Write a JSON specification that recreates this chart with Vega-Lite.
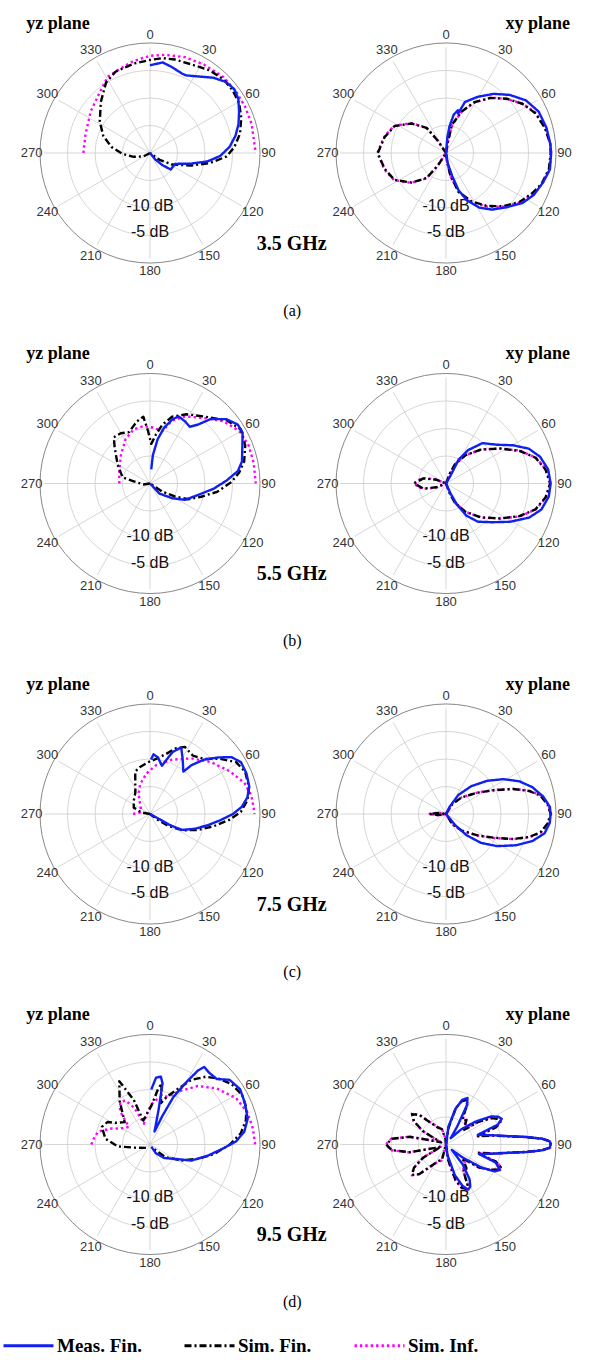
{
"$schema": "https://vega.github.io/schema/vega-lite/v6.json",
"background": "white",
"padding": {"left": 2, "top": 5, "right": 0, "bottom": 0},
"columns": 2,
"spacing": {"row": 34.5, "column": 0},
"bounds": "flush",
"config": {
  "view": {"stroke": null},
  "legend": {"orient": "bottom", "direction": "horizontal", "symbolType": "stroke", "symbolSize": 2500, "symbolStrokeWidth": 3, "labelFont": "Liberation Serif", "labelFontSize": 19, "labelFontWeight": "bold", "labelColor": "#000000", "columnPadding": 36, "labelOffset": 2, "offset": 8, "labelLimit": 200}
},
"datasets": {
  "rng": [{"r":0.25},{"r":0.5},{"r":0.75}],
  "out": [{"r":1}],
  "ang": [{"a":0},{"a":30},{"a":60},{"a":90},{"a":120},{"a":150},{"a":180},{"a":210},{"a":240},{"a":270},{"a":300},{"a":330}],
  "dbl": [{"t":"-10 dB","r":0.5},{"t":"-5 dB","r":0.75}],
  "c35yz": [
    {"s":"Sim. Inf.","a":270,"g":-7.4},{"s":"Sim. Inf.","a":286,"g":-7.3},{"s":"Sim. Inf.","a":305,"g":-6.3},{"s":"Sim. Inf.","a":322,"g":-4.9},{"s":"Sim. Inf.","a":331,"g":-3.5},{"s":"Sim. Inf.","a":340,"g":-3.1},{"s":"Sim. Inf.","a":350,"g":-2.3},{"s":"Sim. Inf.","a":0,"g":-1.6},{"s":"Sim. Inf.","a":9,"g":-1.2},{"s":"Sim. Inf.","a":20,"g":-0.7},{"s":"Sim. Inf.","a":31.5,"g":-0.4},{"s":"Sim. Inf.","a":44,"g":0},{"s":"Sim. Inf.","a":55,"g":0},{"s":"Sim. Inf.","a":64,"g":0},{"s":"Sim. Inf.","a":74,"g":0},{"s":"Sim. Inf.","a":90,"g":0},
    {"s":"Sim. Fin.","a":235,"g":-20},{"s":"Sim. Fin.","a":242,"g":-18.6},{"s":"Sim. Fin.","a":257,"g":-16.8},{"s":"Sim. Fin.","a":268,"g":-14.8},{"s":"Sim. Fin.","a":279,"g":-12.6},{"s":"Sim. Fin.","a":290,"g":-10.6},{"s":"Sim. Fin.","a":302,"g":-8.8},{"s":"Sim. Fin.","a":316,"g":-6.6},{"s":"Sim. Fin.","a":328,"g":-4.3},{"s":"Sim. Fin.","a":337,"g":-3.3},{"s":"Sim. Fin.","a":350,"g":-2.8},{"s":"Sim. Fin.","a":0,"g":-2.4},{"s":"Sim. Fin.","a":7.5,"g":-1.9},{"s":"Sim. Fin.","a":15,"g":-1.7},{"s":"Sim. Fin.","a":25,"g":-1.5},{"s":"Sim. Fin.","a":36,"g":-0.7},{"s":"Sim. Fin.","a":45,"g":-0.3},{"s":"Sim. Fin.","a":53,"g":-0.4},{"s":"Sim. Fin.","a":61,"g":-0.7},{"s":"Sim. Fin.","a":69,"g":-1.5},{"s":"Sim. Fin.","a":78,"g":-2.6},{"s":"Sim. Fin.","a":86,"g":-4.0},{"s":"Sim. Fin.","a":92.6,"g":-5.5},{"s":"Sim. Fin.","a":99.3,"g":-8.4},{"s":"Sim. Fin.","a":106.8,"g":-11.8},{"s":"Sim. Fin.","a":117.6,"g":-15.3},{"s":"Sim. Fin.","a":126,"g":-17.8},{"s":"Sim. Fin.","a":135,"g":-20},
    {"s":"Meas. Fin.","a":0,"g":-3.4},{"s":"Meas. Fin.","a":8,"g":-2.7},{"s":"Meas. Fin.","a":14,"g":-3.2},{"s":"Meas. Fin.","a":22,"g":-3.8},{"s":"Meas. Fin.","a":25,"g":-3.8},{"s":"Meas. Fin.","a":34,"g":-2.6},{"s":"Meas. Fin.","a":40,"g":-1.4},{"s":"Meas. Fin.","a":47,"g":-0.3},{"s":"Meas. Fin.","a":53,"g":0},{"s":"Meas. Fin.","a":58.5,"g":-0.4},{"s":"Meas. Fin.","a":65,"g":-1.4},{"s":"Meas. Fin.","a":72,"g":-2.4},{"s":"Meas. Fin.","a":78.6,"g":-3.5},{"s":"Meas. Fin.","a":85.6,"g":-4.9},{"s":"Meas. Fin.","a":92.4,"g":-6.7},{"s":"Meas. Fin.","a":98.3,"g":-9.0},{"s":"Meas. Fin.","a":104.3,"g":-11.9},{"s":"Meas. Fin.","a":113.3,"g":-14.8},{"s":"Meas. Fin.","a":128.6,"g":-15.0},{"s":"Meas. Fin.","a":134.3,"g":-16.7},{"s":"Meas. Fin.","a":141,"g":-18.4},{"s":"Meas. Fin.","a":150,"g":-20}
  ],
  "c35xy": [
    {"s":"Sim. Inf.","a":0,"g":-20},{"s":"Sim. Inf.","a":10,"g":-17.4},{"s":"Sim. Inf.","a":12.5,"g":-14.5},{"s":"Sim. Inf.","a":21,"g":-11.5},{"s":"Sim. Inf.","a":29.5,"g":-9.0},{"s":"Sim. Inf.","a":39,"g":-6.5},{"s":"Sim. Inf.","a":48.5,"g":-4.6},{"s":"Sim. Inf.","a":57.5,"g":-2.7},{"s":"Sim. Inf.","a":66,"g":-1.4},{"s":"Sim. Inf.","a":76,"g":-0.6},{"s":"Sim. Inf.","a":85,"g":-0.2},{"s":"Sim. Inf.","a":90,"g":-0.1},{"s":"Sim. Inf.","a":99,"g":-0.2},{"s":"Sim. Inf.","a":108,"g":-0.9},{"s":"Sim. Inf.","a":115,"g":-1.9},{"s":"Sim. Inf.","a":124,"g":-3.2},{"s":"Sim. Inf.","a":133,"g":-5.1},{"s":"Sim. Inf.","a":142.5,"g":-7.2},{"s":"Sim. Inf.","a":152.5,"g":-9.6},{"s":"Sim. Inf.","a":162,"g":-12.2},{"s":"Sim. Inf.","a":169,"g":-15.5},{"s":"Sim. Inf.","a":172.5,"g":-18},{"s":"Sim. Inf.","a":180,"g":-20},{"s":"Sim. Inf.","a":213.5,"g":-17.1},{"s":"Sim. Inf.","a":218,"g":-13.9},{"s":"Sim. Inf.","a":229.5,"g":-11.3},{"s":"Sim. Inf.","a":242.5,"g":-8.9},{"s":"Sim. Inf.","a":255.5,"g":-7.9},{"s":"Sim. Inf.","a":270,"g":-7.0},{"s":"Sim. Inf.","a":284.5,"g":-7.9},{"s":"Sim. Inf.","a":297.5,"g":-8.9},{"s":"Sim. Inf.","a":310.5,"g":-11.3},{"s":"Sim. Inf.","a":322,"g":-13.9},{"s":"Sim. Inf.","a":326.5,"g":-17.1},{"s":"Sim. Inf.","a":335,"g":-20},
    {"s":"Sim. Fin.","a":0,"g":-20},{"s":"Sim. Fin.","a":10,"g":-17.6},{"s":"Sim. Fin.","a":12,"g":-14.5},{"s":"Sim. Fin.","a":20.8,"g":-11.6},{"s":"Sim. Fin.","a":29.2,"g":-9.0},{"s":"Sim. Fin.","a":38.9,"g":-6.6},{"s":"Sim. Fin.","a":48.2,"g":-4.6},{"s":"Sim. Fin.","a":57.2,"g":-2.8},{"s":"Sim. Fin.","a":66,"g":-1.5},{"s":"Sim. Fin.","a":75.7,"g":-0.7},{"s":"Sim. Fin.","a":84.9,"g":-0.2},{"s":"Sim. Fin.","a":90,"g":-0.2},{"s":"Sim. Fin.","a":99,"g":-0.3},{"s":"Sim. Fin.","a":107.8,"g":-1.0},{"s":"Sim. Fin.","a":115.1,"g":-2.0},{"s":"Sim. Fin.","a":123.7,"g":-3.3},{"s":"Sim. Fin.","a":132.8,"g":-5.2},{"s":"Sim. Fin.","a":142.2,"g":-7.3},{"s":"Sim. Fin.","a":152.4,"g":-9.7},{"s":"Sim. Fin.","a":162.1,"g":-12.3},{"s":"Sim. Fin.","a":168.8,"g":-15.6},{"s":"Sim. Fin.","a":172.6,"g":-18.1},{"s":"Sim. Fin.","a":180,"g":-20},{"s":"Sim. Fin.","a":213,"g":-17.2},{"s":"Sim. Fin.","a":217.7,"g":-14},{"s":"Sim. Fin.","a":229.5,"g":-11.4},{"s":"Sim. Fin.","a":242.4,"g":-9.0},{"s":"Sim. Fin.","a":255.6,"g":-8.0},{"s":"Sim. Fin.","a":270,"g":-7.1},{"s":"Sim. Fin.","a":284.4,"g":-8.0},{"s":"Sim. Fin.","a":297.6,"g":-9.0},{"s":"Sim. Fin.","a":310.5,"g":-11.4},{"s":"Sim. Fin.","a":322.3,"g":-14},{"s":"Sim. Fin.","a":326.3,"g":-17.2},{"s":"Sim. Fin.","a":335,"g":-20},
    {"s":"Meas. Fin.","a":0,"g":-20},{"s":"Meas. Fin.","a":5,"g":-17},{"s":"Meas. Fin.","a":7.5,"g":-14.9},{"s":"Meas. Fin.","a":11.4,"g":-12.6},{"s":"Meas. Fin.","a":15.4,"g":-11.6},{"s":"Meas. Fin.","a":17,"g":-12.2},{"s":"Meas. Fin.","a":20.4,"g":-9.7},{"s":"Meas. Fin.","a":29.4,"g":-7.8},{"s":"Meas. Fin.","a":39,"g":-5.6},{"s":"Meas. Fin.","a":47.6,"g":-3.7},{"s":"Meas. Fin.","a":56.6,"g":-1.9},{"s":"Meas. Fin.","a":65.9,"g":-0.8},{"s":"Meas. Fin.","a":75.9,"g":-0.4},{"s":"Meas. Fin.","a":85,"g":-0.2},{"s":"Meas. Fin.","a":90,"g":-0.1},{"s":"Meas. Fin.","a":99,"g":-0.1},{"s":"Meas. Fin.","a":106.7,"g":-0.8},{"s":"Meas. Fin.","a":115.6,"g":-1.6},{"s":"Meas. Fin.","a":123.1,"g":-2.7},{"s":"Meas. Fin.","a":131.8,"g":-4.6},{"s":"Meas. Fin.","a":140.9,"g":-6.2},{"s":"Meas. Fin.","a":148.7,"g":-7.9},{"s":"Meas. Fin.","a":156.3,"g":-10.3},{"s":"Meas. Fin.","a":161.4,"g":-12.6},{"s":"Meas. Fin.","a":165,"g":-15.5},{"s":"Meas. Fin.","a":170,"g":-18},{"s":"Meas. Fin.","a":180,"g":-20}
  ],
  "c55yz": [
    {"s":"Sim. Inf.","a":270,"g":-14.2},{"s":"Sim. Inf.","a":292.1,"g":-13.7},{"s":"Sim. Inf.","a":314.4,"g":-12.3},{"s":"Sim. Inf.","a":331.3,"g":-10.4},{"s":"Sim. Inf.","a":343.2,"g":-9.3},{"s":"Sim. Inf.","a":353.3,"g":-9.1},{"s":"Sim. Inf.","a":3,"g":-9.4},{"s":"Sim. Inf.","a":13.4,"g":-9.8},{"s":"Sim. Inf.","a":19.3,"g":-7.4},{"s":"Sim. Inf.","a":27.5,"g":-5.7},{"s":"Sim. Inf.","a":39.6,"g":-3.9},{"s":"Sim. Inf.","a":49.7,"g":-1.8},{"s":"Sim. Inf.","a":59.6,"g":-0.4},{"s":"Sim. Inf.","a":68.9,"g":0},{"s":"Sim. Inf.","a":78.8,"g":0},{"s":"Sim. Inf.","a":90,"g":0},
    {"s":"Sim. Fin.","a":250,"g":-20},{"s":"Sim. Fin.","a":262,"g":-18.7},{"s":"Sim. Fin.","a":277.8,"g":-16.9},{"s":"Sim. Fin.","a":282.5,"g":-14.7},{"s":"Sim. Fin.","a":300.3,"g":-12.9},{"s":"Sim. Fin.","a":315.8,"g":-10.4},{"s":"Sim. Fin.","a":321.9,"g":-8.9},{"s":"Sim. Fin.","a":329.9,"g":-9.0},{"s":"Sim. Fin.","a":337.7,"g":-9.5},{"s":"Sim. Fin.","a":348.1,"g":-8.0},{"s":"Sim. Fin.","a":354.3,"g":-7.3},{"s":"Sim. Fin.","a":357.9,"g":-10.1},{"s":"Sim. Fin.","a":1.8,"g":-12.5},{"s":"Sim. Fin.","a":7,"g":-10.6},{"s":"Sim. Fin.","a":12,"g":-8.6},{"s":"Sim. Fin.","a":18.3,"g":-6.7},{"s":"Sim. Fin.","a":27.8,"g":-5.2},{"s":"Sim. Fin.","a":39,"g":-3.7},{"s":"Sim. Fin.","a":50.5,"g":-1.2},{"s":"Sim. Fin.","a":59.2,"g":0},{"s":"Sim. Fin.","a":68.2,"g":-0.6},{"s":"Sim. Fin.","a":76.8,"g":-1.7},{"s":"Sim. Fin.","a":83,"g":-3.0},{"s":"Sim. Fin.","a":89,"g":-4.6},{"s":"Sim. Fin.","a":97.1,"g":-7.2},{"s":"Sim. Fin.","a":104.5,"g":-10.0},{"s":"Sim. Fin.","a":112.4,"g":-12.2},{"s":"Sim. Fin.","a":117.4,"g":-14.6},{"s":"Sim. Fin.","a":123.7,"g":-17.2},{"s":"Sim. Fin.","a":130,"g":-20},
    {"s":"Meas. Fin.","a":5,"g":-17.3},{"s":"Meas. Fin.","a":5.8,"g":-14.6},{"s":"Meas. Fin.","a":9.8,"g":-11.5},{"s":"Meas. Fin.","a":14.2,"g":-9.1},{"s":"Meas. Fin.","a":19.1,"g":-7.2},{"s":"Meas. Fin.","a":23.1,"g":-6.2},{"s":"Meas. Fin.","a":29.3,"g":-6.5},{"s":"Meas. Fin.","a":35,"g":-6.9},{"s":"Meas. Fin.","a":39,"g":-5.7},{"s":"Meas. Fin.","a":43.2,"g":-3.3},{"s":"Meas. Fin.","a":49.9,"g":-1.1},{"s":"Meas. Fin.","a":56.1,"g":0},{"s":"Meas. Fin.","a":61.2,"g":0},{"s":"Meas. Fin.","a":67.6,"g":-1.1},{"s":"Meas. Fin.","a":76.5,"g":-2.1},{"s":"Meas. Fin.","a":81.9,"g":-3.2},{"s":"Meas. Fin.","a":87.8,"g":-5.5},{"s":"Meas. Fin.","a":94.6,"g":-7.9},{"s":"Meas. Fin.","a":103.6,"g":-10.7},{"s":"Meas. Fin.","a":115.1,"g":-12.7},{"s":"Meas. Fin.","a":123.7,"g":-15.0},{"s":"Meas. Fin.","a":136.9,"g":-17.4},{"s":"Meas. Fin.","a":145,"g":-20}
  ],
  "c55xy": [
    {"s":"Sim. Inf.","a":10,"g":-20},{"s":"Sim. Inf.","a":21,"g":-18},{"s":"Sim. Inf.","a":25,"g":-16},{"s":"Sim. Inf.","a":34.5,"g":-13.5},{"s":"Sim. Inf.","a":46,"g":-10.7},{"s":"Sim. Inf.","a":57.5,"g":-7.7},{"s":"Sim. Inf.","a":66,"g":-4.7},{"s":"Sim. Inf.","a":74,"g":-2.3},{"s":"Sim. Inf.","a":82,"g":-0.9},{"s":"Sim. Inf.","a":90,"g":-0.2},{"s":"Sim. Inf.","a":98,"g":-0.9},{"s":"Sim. Inf.","a":106,"g":-2.3},{"s":"Sim. Inf.","a":114,"g":-4.7},{"s":"Sim. Inf.","a":122.5,"g":-7.7},{"s":"Sim. Inf.","a":134,"g":-10.7},{"s":"Sim. Inf.","a":145.5,"g":-13.5},{"s":"Sim. Inf.","a":155,"g":-16},{"s":"Sim. Inf.","a":159,"g":-18},{"s":"Sim. Inf.","a":170,"g":-20},{"s":"Sim. Inf.","a":248,"g":-17.8},{"s":"Sim. Inf.","a":257,"g":-15.4},{"s":"Sim. Inf.","a":270,"g":-13.8},{"s":"Sim. Inf.","a":283,"g":-15.4},{"s":"Sim. Inf.","a":292,"g":-17.8},{"s":"Sim. Inf.","a":300,"g":-20},
    {"s":"Sim. Fin.","a":10,"g":-20},{"s":"Sim. Fin.","a":20.8,"g":-18.1},{"s":"Sim. Fin.","a":24.6,"g":-16.1},{"s":"Sim. Fin.","a":34.1,"g":-13.6},{"s":"Sim. Fin.","a":45.8,"g":-10.8},{"s":"Sim. Fin.","a":57.2,"g":-7.8},{"s":"Sim. Fin.","a":66,"g":-4.8},{"s":"Sim. Fin.","a":73.8,"g":-2.4},{"s":"Sim. Fin.","a":81.9,"g":-1.0},{"s":"Sim. Fin.","a":90,"g":-0.3},{"s":"Sim. Fin.","a":98.1,"g":-1.0},{"s":"Sim. Fin.","a":106.2,"g":-2.4},{"s":"Sim. Fin.","a":114,"g":-4.8},{"s":"Sim. Fin.","a":122.8,"g":-7.8},{"s":"Sim. Fin.","a":134.2,"g":-10.8},{"s":"Sim. Fin.","a":145.9,"g":-13.6},{"s":"Sim. Fin.","a":155.4,"g":-16.1},{"s":"Sim. Fin.","a":159.2,"g":-18.1},{"s":"Sim. Fin.","a":170,"g":-20},{"s":"Sim. Fin.","a":249,"g":-18},{"s":"Sim. Fin.","a":257.3,"g":-15.6},{"s":"Sim. Fin.","a":270,"g":-14},{"s":"Sim. Fin.","a":282.7,"g":-15.6},{"s":"Sim. Fin.","a":291,"g":-18},{"s":"Sim. Fin.","a":300,"g":-20},
    {"s":"Meas. Fin.","a":20,"g":-20},{"s":"Meas. Fin.","a":30,"g":-18.3},{"s":"Meas. Fin.","a":27.8,"g":-14.9},{"s":"Meas. Fin.","a":33.6,"g":-12.4},{"s":"Meas. Fin.","a":42.1,"g":-9.7},{"s":"Meas. Fin.","a":52.7,"g":-7.9},{"s":"Meas. Fin.","a":60.3,"g":-5.4},{"s":"Meas. Fin.","a":67.2,"g":-3.0},{"s":"Meas. Fin.","a":74.1,"g":-1.5},{"s":"Meas. Fin.","a":82.1,"g":-0.5},{"s":"Meas. Fin.","a":90,"g":-0.2},{"s":"Meas. Fin.","a":97.3,"g":-0.4},{"s":"Meas. Fin.","a":105.3,"g":-1.3},{"s":"Meas. Fin.","a":112.3,"g":-3.0},{"s":"Meas. Fin.","a":120.9,"g":-5.9},{"s":"Meas. Fin.","a":130,"g":-8.6},{"s":"Meas. Fin.","a":140.2,"g":-10.6},{"s":"Meas. Fin.","a":147.6,"g":-12.8},{"s":"Meas. Fin.","a":152.7,"g":-15.5},{"s":"Meas. Fin.","a":155.7,"g":-17.9},{"s":"Meas. Fin.","a":160,"g":-20}
  ],
  "c75yz": [
    {"s":"Sim. Inf.","a":270,"g":-16.8},{"s":"Sim. Inf.","a":279,"g":-18.1},{"s":"Sim. Inf.","a":300,"g":-18},{"s":"Sim. Inf.","a":329.9,"g":-15.7},{"s":"Sim. Inf.","a":341.4,"g":-14.1},{"s":"Sim. Inf.","a":355,"g":-12.3},{"s":"Sim. Inf.","a":7.1,"g":-10.7},{"s":"Sim. Inf.","a":22.1,"g":-8.9},{"s":"Sim. Inf.","a":36.6,"g":-6.9},{"s":"Sim. Inf.","a":49.4,"g":-4.9},{"s":"Sim. Inf.","a":61.7,"g":-2.9},{"s":"Sim. Inf.","a":71.7,"g":-1.2},{"s":"Sim. Inf.","a":79.8,"g":-0.5},{"s":"Sim. Inf.","a":90,"g":-0.2},
    {"s":"Sim. Fin.","a":250,"g":-20},{"s":"Sim. Fin.","a":280,"g":-18.4},{"s":"Sim. Fin.","a":291.4,"g":-16.7},{"s":"Sim. Fin.","a":310,"g":-16},{"s":"Sim. Fin.","a":325.5,"g":-15.1},{"s":"Sim. Fin.","a":340.8,"g":-11.5},{"s":"Sim. Fin.","a":348.1,"g":-10.9},{"s":"Sim. Fin.","a":357.9,"g":-10.2},{"s":"Sim. Fin.","a":6.3,"g":-9.5},{"s":"Sim. Fin.","a":14.7,"g":-8.3},{"s":"Sim. Fin.","a":21.2,"g":-6.7},{"s":"Sim. Fin.","a":27.4,"g":-5.7},{"s":"Sim. Fin.","a":36.4,"g":-6.3},{"s":"Sim. Fin.","a":44.5,"g":-5.4},{"s":"Sim. Fin.","a":51.9,"g":-3.1},{"s":"Sim. Fin.","a":58.9,"g":-1.0},{"s":"Sim. Fin.","a":66,"g":-0.3},{"s":"Sim. Fin.","a":75.1,"g":-0.6},{"s":"Sim. Fin.","a":82.1,"g":-1.4},{"s":"Sim. Fin.","a":88.6,"g":-2.8},{"s":"Sim. Fin.","a":94.1,"g":-4.9},{"s":"Sim. Fin.","a":100.8,"g":-7.7},{"s":"Sim. Fin.","a":108.5,"g":-10.5},{"s":"Sim. Fin.","a":116.1,"g":-13.0},{"s":"Sim. Fin.","a":122.8,"g":-15.7},{"s":"Sim. Fin.","a":126.9,"g":-18.2},{"s":"Sim. Fin.","a":135,"g":-20},
    {"s":"Meas. Fin.","a":1,"g":-9.7},{"s":"Meas. Fin.","a":3.4,"g":-8.7},{"s":"Meas. Fin.","a":8,"g":-9.2},{"s":"Meas. Fin.","a":13.9,"g":-10.6},{"s":"Meas. Fin.","a":16.4,"g":-9.5},{"s":"Meas. Fin.","a":20.1,"g":-7.5},{"s":"Meas. Fin.","a":25.1,"g":-6.1},{"s":"Meas. Fin.","a":30.7,"g":-7.9},{"s":"Meas. Fin.","a":38.2,"g":-9.8},{"s":"Meas. Fin.","a":40.3,"g":-7.9},{"s":"Meas. Fin.","a":44.8,"g":-5.5},{"s":"Meas. Fin.","a":50.4,"g":-3.2},{"s":"Meas. Fin.","a":55.1,"g":-1.2},{"s":"Meas. Fin.","a":60.3,"g":-0.2},{"s":"Meas. Fin.","a":67.1,"g":-0.2},{"s":"Meas. Fin.","a":74.3,"g":-0.5},{"s":"Meas. Fin.","a":80.3,"g":-1.3},{"s":"Meas. Fin.","a":85.6,"g":-2.6},{"s":"Meas. Fin.","a":90,"g":-4.3},{"s":"Meas. Fin.","a":95.2,"g":-6.7},{"s":"Meas. Fin.","a":101.1,"g":-8.9},{"s":"Meas. Fin.","a":108.3,"g":-11.1},{"s":"Meas. Fin.","a":116.8,"g":-13.3},{"s":"Meas. Fin.","a":119.2,"g":-15.9},{"s":"Meas. Fin.","a":118.4,"g":-18.3},{"s":"Meas. Fin.","a":130,"g":-20}
  ],
  "c75xy": [
    {"s":"Sim. Inf.","a":20,"g":-20},{"s":"Sim. Inf.","a":32,"g":-17.7},{"s":"Sim. Inf.","a":43.5,"g":-15.6},{"s":"Sim. Inf.","a":56,"g":-12.7},{"s":"Sim. Inf.","a":63.5,"g":-9.8},{"s":"Sim. Inf.","a":69.5,"g":-6.4},{"s":"Sim. Inf.","a":74.5,"g":-3.6},{"s":"Sim. Inf.","a":79,"g":-1.7},{"s":"Sim. Inf.","a":84.5,"g":-0.6},{"s":"Sim. Inf.","a":90,"g":-0.1},{"s":"Sim. Inf.","a":95.5,"g":-0.6},{"s":"Sim. Inf.","a":101,"g":-1.7},{"s":"Sim. Inf.","a":105.5,"g":-3.6},{"s":"Sim. Inf.","a":110.5,"g":-6.4},{"s":"Sim. Inf.","a":116.5,"g":-9.8},{"s":"Sim. Inf.","a":124,"g":-12.7},{"s":"Sim. Inf.","a":136.5,"g":-15.6},{"s":"Sim. Inf.","a":148,"g":-17.7},{"s":"Sim. Inf.","a":160,"g":-20},{"s":"Sim. Inf.","a":262,"g":-18.3},{"s":"Sim. Inf.","a":270,"g":-16.7},{"s":"Sim. Inf.","a":278,"g":-18.3},{"s":"Sim. Inf.","a":290,"g":-20},
    {"s":"Sim. Fin.","a":20,"g":-20},{"s":"Sim. Fin.","a":32.3,"g":-17.8},{"s":"Sim. Fin.","a":43.3,"g":-15.7},{"s":"Sim. Fin.","a":55.9,"g":-12.8},{"s":"Sim. Fin.","a":63.6,"g":-9.9},{"s":"Sim. Fin.","a":69.5,"g":-6.5},{"s":"Sim. Fin.","a":74.5,"g":-3.7},{"s":"Sim. Fin.","a":79,"g":-1.8},{"s":"Sim. Fin.","a":84.6,"g":-0.7},{"s":"Sim. Fin.","a":90,"g":-0.2},{"s":"Sim. Fin.","a":95.4,"g":-0.7},{"s":"Sim. Fin.","a":101,"g":-1.8},{"s":"Sim. Fin.","a":105.5,"g":-3.7},{"s":"Sim. Fin.","a":110.5,"g":-6.5},{"s":"Sim. Fin.","a":116.4,"g":-9.9},{"s":"Sim. Fin.","a":124.1,"g":-12.8},{"s":"Sim. Fin.","a":136.7,"g":-15.7},{"s":"Sim. Fin.","a":147.7,"g":-17.8},{"s":"Sim. Fin.","a":160,"g":-20},{"s":"Sim. Fin.","a":262,"g":-18.5},{"s":"Sim. Fin.","a":270,"g":-16.9},{"s":"Sim. Fin.","a":278,"g":-18.5},{"s":"Sim. Fin.","a":290,"g":-20},
    {"s":"Meas. Fin.","a":15,"g":-20},{"s":"Meas. Fin.","a":26.6,"g":-18.5},{"s":"Meas. Fin.","a":33,"g":-15.7},{"s":"Meas. Fin.","a":42.2,"g":-12.9},{"s":"Meas. Fin.","a":51.1,"g":-10.0},{"s":"Meas. Fin.","a":58.7,"g":-7.3},{"s":"Meas. Fin.","a":66,"g":-4.8},{"s":"Meas. Fin.","a":72.7,"g":-2.9},{"s":"Meas. Fin.","a":79.9,"g":-1.3},{"s":"Meas. Fin.","a":86.1,"g":-0.3},{"s":"Meas. Fin.","a":90,"g":-0.2},{"s":"Meas. Fin.","a":94.9,"g":-0.3},{"s":"Meas. Fin.","a":101.1,"g":-1.0},{"s":"Meas. Fin.","a":107.5,"g":-2.9},{"s":"Meas. Fin.","a":114.1,"g":-5.5},{"s":"Meas. Fin.","a":122.2,"g":-8.6},{"s":"Meas. Fin.","a":129.5,"g":-11.4},{"s":"Meas. Fin.","a":135.9,"g":-14.4},{"s":"Meas. Fin.","a":140.4,"g":-17.2},{"s":"Meas. Fin.","a":150,"g":-20}
  ],
  "c95yz": [
    {"s":"Sim. Inf.","a":270,"g":-8.9},{"s":"Sim. Inf.","a":276,"g":-9.3},{"s":"Sim. Inf.","a":284,"g":-9.9},{"s":"Sim. Inf.","a":292.5,"g":-12.1},{"s":"Sim. Inf.","a":298.8,"g":-13.7},{"s":"Sim. Inf.","a":309.8,"g":-14.8},{"s":"Sim. Inf.","a":318,"g":-11.5},{"s":"Sim. Inf.","a":325,"g":-10.2},{"s":"Sim. Inf.","a":331,"g":-10.5},{"s":"Sim. Inf.","a":337,"g":-12.5},{"s":"Sim. Inf.","a":343.7,"g":-15.9},{"s":"Sim. Inf.","a":352,"g":-14.5},{"s":"Sim. Inf.","a":1.8,"g":-12.4},{"s":"Sim. Inf.","a":11.1,"g":-10.9},{"s":"Sim. Inf.","a":21.5,"g":-10.2},{"s":"Sim. Inf.","a":28.3,"g":-8.6},{"s":"Sim. Inf.","a":39.3,"g":-5.7},{"s":"Sim. Inf.","a":50.1,"g":-3.5},{"s":"Sim. Inf.","a":61.7,"g":-1.5},{"s":"Sim. Inf.","a":71.8,"g":-0.6},{"s":"Sim. Inf.","a":81.1,"g":-0.3},{"s":"Sim. Inf.","a":90,"g":-0.1},
    {"s":"Sim. Fin.","a":230,"g":-19},{"s":"Sim. Fin.","a":258.9,"g":-16.9},{"s":"Sim. Fin.","a":266.6,"g":-13.9},{"s":"Sim. Fin.","a":277.4,"g":-11.5},{"s":"Sim. Fin.","a":290,"g":-10.3},{"s":"Sim. Fin.","a":297.8,"g":-10.9},{"s":"Sim. Fin.","a":302.7,"g":-12.4},{"s":"Sim. Fin.","a":311.5,"g":-13.6},{"s":"Sim. Fin.","a":325,"g":-10},{"s":"Sim. Fin.","a":334.1,"g":-6.7},{"s":"Sim. Fin.","a":340,"g":-11.0},{"s":"Sim. Fin.","a":344.4,"g":-15.3},{"s":"Sim. Fin.","a":1.9,"g":-12.7},{"s":"Sim. Fin.","a":8,"g":-9.6},{"s":"Sim. Fin.","a":10.9,"g":-8.2},{"s":"Sim. Fin.","a":14.7,"g":-11.9},{"s":"Sim. Fin.","a":19.8,"g":-10.3},{"s":"Sim. Fin.","a":27,"g":-8.1},{"s":"Sim. Fin.","a":32.6,"g":-5.5},{"s":"Sim. Fin.","a":39.4,"g":-3.4},{"s":"Sim. Fin.","a":46.2,"g":-2.0},{"s":"Sim. Fin.","a":53.5,"g":-0.8},{"s":"Sim. Fin.","a":61.6,"g":-0.2},{"s":"Sim. Fin.","a":69.1,"g":-0.5},{"s":"Sim. Fin.","a":75.9,"g":-1.3},{"s":"Sim. Fin.","a":83,"g":-2.7},{"s":"Sim. Fin.","a":90,"g":-4.9},{"s":"Sim. Fin.","a":98.6,"g":-7.8},{"s":"Sim. Fin.","a":106.8,"g":-10.6},{"s":"Sim. Fin.","a":116.8,"g":-13.3},{"s":"Sim. Fin.","a":129.2,"g":-16.2},{"s":"Sim. Fin.","a":137,"g":-18.8},
    {"s":"Meas. Fin.","a":1.3,"g":-9.6},{"s":"Meas. Fin.","a":5.2,"g":-7.3},{"s":"Meas. Fin.","a":9.1,"g":-7.0},{"s":"Meas. Fin.","a":11.6,"g":-8.2},{"s":"Meas. Fin.","a":13.8,"g":-13.1},{"s":"Meas. Fin.","a":19.3,"g":-17.4},{"s":"Meas. Fin.","a":23.4,"g":-14.1},{"s":"Meas. Fin.","a":26.3,"g":-9.9},{"s":"Meas. Fin.","a":30.3,"g":-6.3},{"s":"Meas. Fin.","a":32.9,"g":-3.4},{"s":"Meas. Fin.","a":34.9,"g":-2.1},{"s":"Meas. Fin.","a":39.3,"g":-2.4},{"s":"Meas. Fin.","a":45.6,"g":-2.3},{"s":"Meas. Fin.","a":50.9,"g":-0.6},{"s":"Meas. Fin.","a":58.4,"g":0},{"s":"Meas. Fin.","a":66.4,"g":-0.4},{"s":"Meas. Fin.","a":75.3,"g":-0.9},{"s":"Meas. Fin.","a":82.3,"g":-2.0},{"s":"Meas. Fin.","a":87.9,"g":-3.7},{"s":"Meas. Fin.","a":93,"g":-6.1},{"s":"Meas. Fin.","a":101.1,"g":-8.9},{"s":"Meas. Fin.","a":111.2,"g":-11.6},{"s":"Meas. Fin.","a":119.7,"g":-14.5},{"s":"Meas. Fin.","a":133.7,"g":-16.3},{"s":"Meas. Fin.","a":145.8,"g":-18.0},{"s":"Meas. Fin.","a":150,"g":-19.5}
  ],
  "c95xy": [
    {"s":"Sim. Inf.","a":0,"g":-20},{"s":"Sim. Inf.","a":8,"g":-16.8},{"s":"Sim. Inf.","a":15,"g":-12.9},{"s":"Sim. Inf.","a":20,"g":-11.2},{"s":"Sim. Inf.","a":24.6,"g":-10.6},{"s":"Sim. Inf.","a":28,"g":-11.4},{"s":"Sim. Inf.","a":32,"g":-13.8},{"s":"Sim. Inf.","a":36,"g":-14.4},{"s":"Sim. Inf.","a":40,"g":-13.9},{"s":"Sim. Inf.","a":45,"g":-14.9},{"s":"Sim. Inf.","a":50,"g":-15.8},{"s":"Sim. Inf.","a":55,"g":-12.4},{"s":"Sim. Inf.","a":60,"g":-9.9},{"s":"Sim. Inf.","a":64,"g":-8.9},{"s":"Sim. Inf.","a":67.5,"g":-8.8},{"s":"Sim. Inf.","a":71,"g":-9.9},{"s":"Sim. Inf.","a":75,"g":-13.8},{"s":"Sim. Inf.","a":79.4,"g":-10.7},{"s":"Sim. Inf.","a":82.8,"g":-7.7},{"s":"Sim. Inf.","a":84.7,"g":-4.7},{"s":"Sim. Inf.","a":86.6,"g":-1.7},{"s":"Sim. Inf.","a":88.2,"g":-0.3},{"s":"Sim. Inf.","a":90,"g":-0.1},{"s":"Sim. Inf.","a":91.8,"g":-0.3},{"s":"Sim. Inf.","a":93.4,"g":-1.7},{"s":"Sim. Inf.","a":95.3,"g":-4.7},{"s":"Sim. Inf.","a":97.2,"g":-7.7},{"s":"Sim. Inf.","a":100.6,"g":-10.7},{"s":"Sim. Inf.","a":105,"g":-13.8},{"s":"Sim. Inf.","a":109,"g":-9.9},{"s":"Sim. Inf.","a":112.5,"g":-8.7},{"s":"Sim. Inf.","a":116,"g":-9.1},{"s":"Sim. Inf.","a":120,"g":-10.4},{"s":"Sim. Inf.","a":125,"g":-12.4},{"s":"Sim. Inf.","a":130,"g":-15.8},{"s":"Sim. Inf.","a":135,"g":-14.9},{"s":"Sim. Inf.","a":140,"g":-13.9},{"s":"Sim. Inf.","a":144,"g":-14.4},{"s":"Sim. Inf.","a":148,"g":-13.4},{"s":"Sim. Inf.","a":152,"g":-11.2},{"s":"Sim. Inf.","a":155.4,"g":-10.6},{"s":"Sim. Inf.","a":160,"g":-11.2},{"s":"Sim. Inf.","a":165,"g":-12.9},{"s":"Sim. Inf.","a":172,"g":-16.8},{"s":"Sim. Inf.","a":180,"g":-20},{"s":"Sim. Inf.","a":195,"g":-16.9},{"s":"Sim. Inf.","a":205,"g":-16.4},{"s":"Sim. Inf.","a":215,"g":-14.9},{"s":"Sim. Inf.","a":222,"g":-12.4},{"s":"Sim. Inf.","a":228,"g":-11.3},{"s":"Sim. Inf.","a":234,"g":-12.4},{"s":"Sim. Inf.","a":240,"g":-14.9},{"s":"Sim. Inf.","a":247,"g":-18.9},{"s":"Sim. Inf.","a":252,"g":-17.9},{"s":"Sim. Inf.","a":258,"g":-12.9},{"s":"Sim. Inf.","a":264,"g":-9.6},{"s":"Sim. Inf.","a":270,"g":-8.6},{"s":"Sim. Inf.","a":276,"g":-9.6},{"s":"Sim. Inf.","a":282,"g":-12.9},{"s":"Sim. Inf.","a":288,"g":-17.9},{"s":"Sim. Inf.","a":293,"g":-18.9},{"s":"Sim. Inf.","a":300,"g":-14.9},{"s":"Sim. Inf.","a":306,"g":-12.4},{"s":"Sim. Inf.","a":312,"g":-11.3},{"s":"Sim. Inf.","a":318,"g":-12.4},{"s":"Sim. Inf.","a":325,"g":-14.9},{"s":"Sim. Inf.","a":335,"g":-16.4},{"s":"Sim. Inf.","a":345,"g":-16.9},{"s":"Sim. Inf.","a":355,"g":-18.9},{"s":"Sim. Inf.","a":360,"g":-20},
    {"s":"Sim. Fin.","a":0,"g":-20},{"s":"Sim. Fin.","a":8,"g":-17},{"s":"Sim. Fin.","a":15,"g":-13},{"s":"Sim. Fin.","a":20,"g":-11.3},{"s":"Sim. Fin.","a":24.6,"g":-10.7},{"s":"Sim. Fin.","a":28,"g":-11.5},{"s":"Sim. Fin.","a":32,"g":-14},{"s":"Sim. Fin.","a":36,"g":-14.5},{"s":"Sim. Fin.","a":40,"g":-14},{"s":"Sim. Fin.","a":45,"g":-15},{"s":"Sim. Fin.","a":50,"g":-16},{"s":"Sim. Fin.","a":55,"g":-12.5},{"s":"Sim. Fin.","a":60,"g":-10},{"s":"Sim. Fin.","a":64,"g":-9},{"s":"Sim. Fin.","a":67.5,"g":-8.9},{"s":"Sim. Fin.","a":71,"g":-10},{"s":"Sim. Fin.","a":75,"g":-14},{"s":"Sim. Fin.","a":79.4,"g":-10.8},{"s":"Sim. Fin.","a":82.8,"g":-7.8},{"s":"Sim. Fin.","a":84.7,"g":-4.8},{"s":"Sim. Fin.","a":86.6,"g":-1.8},{"s":"Sim. Fin.","a":88.2,"g":-0.4},{"s":"Sim. Fin.","a":90,"g":-0.2},{"s":"Sim. Fin.","a":91.8,"g":-0.4},{"s":"Sim. Fin.","a":93.4,"g":-1.8},{"s":"Sim. Fin.","a":95.3,"g":-4.8},{"s":"Sim. Fin.","a":97.2,"g":-7.8},{"s":"Sim. Fin.","a":100.6,"g":-10.8},{"s":"Sim. Fin.","a":105,"g":-14},{"s":"Sim. Fin.","a":109,"g":-10},{"s":"Sim. Fin.","a":112.5,"g":-8.8},{"s":"Sim. Fin.","a":116,"g":-9.2},{"s":"Sim. Fin.","a":120,"g":-10.5},{"s":"Sim. Fin.","a":125,"g":-12.5},{"s":"Sim. Fin.","a":130,"g":-16},{"s":"Sim. Fin.","a":135,"g":-15},{"s":"Sim. Fin.","a":140,"g":-14},{"s":"Sim. Fin.","a":144,"g":-14.5},{"s":"Sim. Fin.","a":148,"g":-13.5},{"s":"Sim. Fin.","a":152,"g":-11.3},{"s":"Sim. Fin.","a":155.4,"g":-10.7},{"s":"Sim. Fin.","a":160,"g":-11.3},{"s":"Sim. Fin.","a":165,"g":-13},{"s":"Sim. Fin.","a":172,"g":-17},{"s":"Sim. Fin.","a":180,"g":-20},{"s":"Sim. Fin.","a":195,"g":-17},{"s":"Sim. Fin.","a":205,"g":-16.5},{"s":"Sim. Fin.","a":215,"g":-15},{"s":"Sim. Fin.","a":222,"g":-12.5},{"s":"Sim. Fin.","a":228,"g":-11.4},{"s":"Sim. Fin.","a":234,"g":-12.5},{"s":"Sim. Fin.","a":240,"g":-15},{"s":"Sim. Fin.","a":247,"g":-19},{"s":"Sim. Fin.","a":252,"g":-18},{"s":"Sim. Fin.","a":258,"g":-13},{"s":"Sim. Fin.","a":264,"g":-9.7},{"s":"Sim. Fin.","a":270,"g":-8.7},{"s":"Sim. Fin.","a":276,"g":-9.7},{"s":"Sim. Fin.","a":282,"g":-13},{"s":"Sim. Fin.","a":288,"g":-18},{"s":"Sim. Fin.","a":293,"g":-19},{"s":"Sim. Fin.","a":300,"g":-15},{"s":"Sim. Fin.","a":306,"g":-12.5},{"s":"Sim. Fin.","a":312,"g":-11.4},{"s":"Sim. Fin.","a":318,"g":-12.5},{"s":"Sim. Fin.","a":325,"g":-15},{"s":"Sim. Fin.","a":335,"g":-16.5},{"s":"Sim. Fin.","a":345,"g":-17},{"s":"Sim. Fin.","a":355,"g":-19},{"s":"Sim. Fin.","a":360,"g":-20},
    {"s":"Meas. Fin.","a":0,"g":-20},{"s":"Meas. Fin.","a":8,"g":-16.5},{"s":"Meas. Fin.","a":15,"g":-13},{"s":"Meas. Fin.","a":20,"g":-11},{"s":"Meas. Fin.","a":24.8,"g":-10.3},{"s":"Meas. Fin.","a":28,"g":-11.5},{"s":"Meas. Fin.","a":32,"g":-16},{"s":"Meas. Fin.","a":37,"g":-18.5},{"s":"Meas. Fin.","a":45,"g":-16},{"s":"Meas. Fin.","a":52,"g":-13},{"s":"Meas. Fin.","a":58,"g":-10},{"s":"Meas. Fin.","a":62,"g":-8.8},{"s":"Meas. Fin.","a":65.3,"g":-8.4},{"s":"Meas. Fin.","a":69,"g":-9.5},{"s":"Meas. Fin.","a":73,"g":-13.7},{"s":"Meas. Fin.","a":79.4,"g":-10.6},{"s":"Meas. Fin.","a":82.8,"g":-7.6},{"s":"Meas. Fin.","a":84.7,"g":-4.6},{"s":"Meas. Fin.","a":86.6,"g":-1.7},{"s":"Meas. Fin.","a":88.2,"g":-0.4},{"s":"Meas. Fin.","a":90,"g":-0.2},{"s":"Meas. Fin.","a":91.8,"g":-0.4},{"s":"Meas. Fin.","a":93.4,"g":-1.7},{"s":"Meas. Fin.","a":95.3,"g":-4.6},{"s":"Meas. Fin.","a":97.2,"g":-7.6},{"s":"Meas. Fin.","a":100.6,"g":-10.6},{"s":"Meas. Fin.","a":106,"g":-13.5},{"s":"Meas. Fin.","a":110,"g":-10},{"s":"Meas. Fin.","a":115.3,"g":-8.7},{"s":"Meas. Fin.","a":119,"g":-9.5},{"s":"Meas. Fin.","a":123,"g":-12},{"s":"Meas. Fin.","a":128,"g":-16},{"s":"Meas. Fin.","a":133,"g":-18.5},{"s":"Meas. Fin.","a":140,"g":-15},{"s":"Meas. Fin.","a":146,"g":-12},{"s":"Meas. Fin.","a":150,"g":-10.8},{"s":"Meas. Fin.","a":153.8,"g":-10.5},{"s":"Meas. Fin.","a":158,"g":-11.5},{"s":"Meas. Fin.","a":164,"g":-14},{"s":"Meas. Fin.","a":172,"g":-18},{"s":"Meas. Fin.","a":180,"g":-20}
  ]
},
"concat": [
   {"width": 296, "height": 296, "layer": [
    {"data":{"name":"ang"},"transform":[{"calculate":"sin(datum.a*PI/180)","as":"sx"},{"calculate":"cos(datum.a*PI/180)","as":"sy"}],"mark":{"type":"rule","stroke":"#cccccc","strokeWidth":0.8},"encoding":{"x":{"field":"sx","type":"quantitative","axis":null,"scale":{"domain":[-1.3455,1.3455]}},"y":{"field":"sy","type":"quantitative","axis":null,"scale":{"domain":[-1.3455,1.3455]}},"x2":{"datum":0},"y2":{"datum":0}}},
    {"data":{"name":"rng"},"mark":{"type":"point","shape":"circle","filled":false,"stroke":"#cccccc","strokeWidth":0.8,"opacity":1},"encoding":{"x":{"datum":0,"type":"quantitative","axis":null},"y":{"datum":0,"type":"quantitative","axis":null},"size":{"field":"r","type":"quantitative","legend":null,"scale":{"type":"pow","exponent":2,"domain":[0,1],"range":[0,48400]}}}},
    {"data":{"name":"out"},"mark":{"type":"point","shape":"circle","filled":false,"stroke":"#888888","strokeWidth":1,"opacity":1},"encoding":{"x":{"datum":0,"type":"quantitative","axis":null},"y":{"datum":0,"type":"quantitative","axis":null},"size":{"field":"r","type":"quantitative","legend":null}}},
    {"data":{"name":"ang"},"transform":[{"calculate":"1.12*sin(datum.a*PI/180)","as":"lx"},{"calculate":"1.12*cos(datum.a*PI/180)","as":"ly"}],"mark":{"type":"text","font":"Liberation Sans","fontSize":13,"fill":"#333333"},"encoding":{"x":{"field":"lx","type":"quantitative","axis":null},"y":{"field":"ly","type":"quantitative","axis":null},"text":{"field":"a","type":"quantitative"}}},
    {"data":{"name":"dbl"},"transform":[{"calculate":"-datum.r","as":"ny"}],"mark":{"type":"text","font":"Liberation Sans","fontSize":16,"fill":"#111111"},"encoding":{"x":{"datum":0,"type":"quantitative","axis":null},"y":{"field":"ny","type":"quantitative","axis":null},"text":{"field":"t","type":"nominal"}}},
    {"data":{"name":"c35yz"},"transform":[{"calculate":"max(0,(datum.g+20)/20)","as":"r"},{"calculate":"datum.r*sin(datum.a*PI/180)","as":"x"},{"calculate":"datum.r*cos(datum.a*PI/180)","as":"y"}],"mark":{"type":"line","strokeWidth":2.4,"strokeJoin":"round"},"encoding":{"x":{"field":"x","type":"quantitative","axis":null},"y":{"field":"y","type":"quantitative","axis":null},"color":{"field":"s","type":"nominal","legend":{"title":null},"scale":{"domain":["Meas. Fin.","Sim. Fin.","Sim. Inf."],"range":["#1020f0","#000000","#ff00ff"]}},"strokeDash":{"field":"s","type":"nominal","legend":{"title":null},"scale":{"domain":["Meas. Fin.","Sim. Fin.","Sim. Inf."],"range":[[1,0],[7,3,2,3],[2.4,3]]}},"order":{"value":null}}},
    {"data":{"values":[{}]},"mark":{"type":"text","font":"Liberation Serif","fontSize":18,"fontWeight":"bold","fill":"#000000"},"encoding":{"x":{"datum":-0.87,"type":"quantitative","axis":null},"y":{"datum":1.2245,"type":"quantitative","axis":null},"text":{"value":"yz plane"}}},
    {"data":{"values":[{}]},"mark":{"type":"text","font":"Liberation Serif","fontSize":20,"fontWeight":"bold","fill":"#000000"},"encoding":{"x":{"datum":1.34,"type":"quantitative","axis":null},"y":{"datum":-0.86,"type":"quantitative","axis":null},"text":{"value":"3.5 GHz"}}},
    {"data":{"values":[{}]},"mark":{"type":"text","font":"Liberation Serif","fontSize":16,"fill":"#000000"},"encoding":{"x":{"datum":1.3455,"type":"quantitative","axis":null},"y":{"datum":-1.49,"type":"quantitative","axis":null},"text":{"value":"(a)"}}}
   ]},
   {"width": 296, "height": 296, "layer": [
    {"data":{"name":"ang"},"transform":[{"calculate":"sin(datum.a*PI/180)","as":"sx"},{"calculate":"cos(datum.a*PI/180)","as":"sy"}],"mark":{"type":"rule","stroke":"#cccccc","strokeWidth":0.8},"encoding":{"x":{"field":"sx","type":"quantitative","axis":null,"scale":{"domain":[-1.3455,1.3455]}},"y":{"field":"sy","type":"quantitative","axis":null,"scale":{"domain":[-1.3455,1.3455]}},"x2":{"datum":0},"y2":{"datum":0}}},
    {"data":{"name":"rng"},"mark":{"type":"point","shape":"circle","filled":false,"stroke":"#cccccc","strokeWidth":0.8,"opacity":1},"encoding":{"x":{"datum":0,"type":"quantitative","axis":null},"y":{"datum":0,"type":"quantitative","axis":null},"size":{"field":"r","type":"quantitative","legend":null,"scale":{"type":"pow","exponent":2,"domain":[0,1],"range":[0,48400]}}}},
    {"data":{"name":"out"},"mark":{"type":"point","shape":"circle","filled":false,"stroke":"#888888","strokeWidth":1,"opacity":1},"encoding":{"x":{"datum":0,"type":"quantitative","axis":null},"y":{"datum":0,"type":"quantitative","axis":null},"size":{"field":"r","type":"quantitative","legend":null}}},
    {"data":{"name":"ang"},"transform":[{"calculate":"1.12*sin(datum.a*PI/180)","as":"lx"},{"calculate":"1.12*cos(datum.a*PI/180)","as":"ly"}],"mark":{"type":"text","font":"Liberation Sans","fontSize":13,"fill":"#333333"},"encoding":{"x":{"field":"lx","type":"quantitative","axis":null},"y":{"field":"ly","type":"quantitative","axis":null},"text":{"field":"a","type":"quantitative"}}},
    {"data":{"name":"dbl"},"transform":[{"calculate":"-datum.r","as":"ny"}],"mark":{"type":"text","font":"Liberation Sans","fontSize":16,"fill":"#111111"},"encoding":{"x":{"datum":0,"type":"quantitative","axis":null},"y":{"field":"ny","type":"quantitative","axis":null},"text":{"field":"t","type":"nominal"}}},
    {"data":{"name":"c35xy"},"transform":[{"calculate":"max(0,(datum.g+20)/20)","as":"r"},{"calculate":"datum.r*sin(datum.a*PI/180)","as":"x"},{"calculate":"datum.r*cos(datum.a*PI/180)","as":"y"}],"mark":{"type":"line","strokeWidth":2.4,"strokeJoin":"round"},"encoding":{"x":{"field":"x","type":"quantitative","axis":null},"y":{"field":"y","type":"quantitative","axis":null},"color":{"field":"s","type":"nominal","legend":{"title":null},"scale":{"domain":["Meas. Fin.","Sim. Fin.","Sim. Inf."],"range":["#1020f0","#000000","#ff00ff"]}},"strokeDash":{"field":"s","type":"nominal","legend":{"title":null},"scale":{"domain":["Meas. Fin.","Sim. Fin.","Sim. Inf."],"range":[[1,0],[7,3,2,3],[2.4,3]]}},"order":{"value":null}}},
    {"data":{"values":[{}]},"mark":{"type":"text","font":"Liberation Serif","fontSize":18,"fontWeight":"bold","fill":"#000000"},"encoding":{"x":{"datum":0.867,"type":"quantitative","axis":null},"y":{"datum":1.2245,"type":"quantitative","axis":null},"text":{"value":"xy plane"}}}
   ]},
   {"width": 296, "height": 296, "layer": [
    {"data":{"name":"ang"},"transform":[{"calculate":"sin(datum.a*PI/180)","as":"sx"},{"calculate":"cos(datum.a*PI/180)","as":"sy"}],"mark":{"type":"rule","stroke":"#cccccc","strokeWidth":0.8},"encoding":{"x":{"field":"sx","type":"quantitative","axis":null,"scale":{"domain":[-1.3455,1.3455]}},"y":{"field":"sy","type":"quantitative","axis":null,"scale":{"domain":[-1.3455,1.3455]}},"x2":{"datum":0},"y2":{"datum":0}}},
    {"data":{"name":"rng"},"mark":{"type":"point","shape":"circle","filled":false,"stroke":"#cccccc","strokeWidth":0.8,"opacity":1},"encoding":{"x":{"datum":0,"type":"quantitative","axis":null},"y":{"datum":0,"type":"quantitative","axis":null},"size":{"field":"r","type":"quantitative","legend":null,"scale":{"type":"pow","exponent":2,"domain":[0,1],"range":[0,48400]}}}},
    {"data":{"name":"out"},"mark":{"type":"point","shape":"circle","filled":false,"stroke":"#888888","strokeWidth":1,"opacity":1},"encoding":{"x":{"datum":0,"type":"quantitative","axis":null},"y":{"datum":0,"type":"quantitative","axis":null},"size":{"field":"r","type":"quantitative","legend":null}}},
    {"data":{"name":"ang"},"transform":[{"calculate":"1.12*sin(datum.a*PI/180)","as":"lx"},{"calculate":"1.12*cos(datum.a*PI/180)","as":"ly"}],"mark":{"type":"text","font":"Liberation Sans","fontSize":13,"fill":"#333333"},"encoding":{"x":{"field":"lx","type":"quantitative","axis":null},"y":{"field":"ly","type":"quantitative","axis":null},"text":{"field":"a","type":"quantitative"}}},
    {"data":{"name":"dbl"},"transform":[{"calculate":"-datum.r","as":"ny"}],"mark":{"type":"text","font":"Liberation Sans","fontSize":16,"fill":"#111111"},"encoding":{"x":{"datum":0,"type":"quantitative","axis":null},"y":{"field":"ny","type":"quantitative","axis":null},"text":{"field":"t","type":"nominal"}}},
    {"data":{"name":"c55yz"},"transform":[{"calculate":"max(0,(datum.g+20)/20)","as":"r"},{"calculate":"datum.r*sin(datum.a*PI/180)","as":"x"},{"calculate":"datum.r*cos(datum.a*PI/180)","as":"y"}],"mark":{"type":"line","strokeWidth":2.4,"strokeJoin":"round"},"encoding":{"x":{"field":"x","type":"quantitative","axis":null},"y":{"field":"y","type":"quantitative","axis":null},"color":{"field":"s","type":"nominal","legend":{"title":null},"scale":{"domain":["Meas. Fin.","Sim. Fin.","Sim. Inf."],"range":["#1020f0","#000000","#ff00ff"]}},"strokeDash":{"field":"s","type":"nominal","legend":{"title":null},"scale":{"domain":["Meas. Fin.","Sim. Fin.","Sim. Inf."],"range":[[1,0],[7,3,2,3],[2.4,3]]}},"order":{"value":null}}},
    {"data":{"values":[{}]},"mark":{"type":"text","font":"Liberation Serif","fontSize":18,"fontWeight":"bold","fill":"#000000"},"encoding":{"x":{"datum":-0.87,"type":"quantitative","axis":null},"y":{"datum":1.2245,"type":"quantitative","axis":null},"text":{"value":"yz plane"}}},
    {"data":{"values":[{}]},"mark":{"type":"text","font":"Liberation Serif","fontSize":20,"fontWeight":"bold","fill":"#000000"},"encoding":{"x":{"datum":1.34,"type":"quantitative","axis":null},"y":{"datum":-0.86,"type":"quantitative","axis":null},"text":{"value":"5.5 GHz"}}},
    {"data":{"values":[{}]},"mark":{"type":"text","font":"Liberation Serif","fontSize":16,"fill":"#000000"},"encoding":{"x":{"datum":1.3455,"type":"quantitative","axis":null},"y":{"datum":-1.49,"type":"quantitative","axis":null},"text":{"value":"(b)"}}}
   ]},
   {"width": 296, "height": 296, "layer": [
    {"data":{"name":"ang"},"transform":[{"calculate":"sin(datum.a*PI/180)","as":"sx"},{"calculate":"cos(datum.a*PI/180)","as":"sy"}],"mark":{"type":"rule","stroke":"#cccccc","strokeWidth":0.8},"encoding":{"x":{"field":"sx","type":"quantitative","axis":null,"scale":{"domain":[-1.3455,1.3455]}},"y":{"field":"sy","type":"quantitative","axis":null,"scale":{"domain":[-1.3455,1.3455]}},"x2":{"datum":0},"y2":{"datum":0}}},
    {"data":{"name":"rng"},"mark":{"type":"point","shape":"circle","filled":false,"stroke":"#cccccc","strokeWidth":0.8,"opacity":1},"encoding":{"x":{"datum":0,"type":"quantitative","axis":null},"y":{"datum":0,"type":"quantitative","axis":null},"size":{"field":"r","type":"quantitative","legend":null,"scale":{"type":"pow","exponent":2,"domain":[0,1],"range":[0,48400]}}}},
    {"data":{"name":"out"},"mark":{"type":"point","shape":"circle","filled":false,"stroke":"#888888","strokeWidth":1,"opacity":1},"encoding":{"x":{"datum":0,"type":"quantitative","axis":null},"y":{"datum":0,"type":"quantitative","axis":null},"size":{"field":"r","type":"quantitative","legend":null}}},
    {"data":{"name":"ang"},"transform":[{"calculate":"1.12*sin(datum.a*PI/180)","as":"lx"},{"calculate":"1.12*cos(datum.a*PI/180)","as":"ly"}],"mark":{"type":"text","font":"Liberation Sans","fontSize":13,"fill":"#333333"},"encoding":{"x":{"field":"lx","type":"quantitative","axis":null},"y":{"field":"ly","type":"quantitative","axis":null},"text":{"field":"a","type":"quantitative"}}},
    {"data":{"name":"dbl"},"transform":[{"calculate":"-datum.r","as":"ny"}],"mark":{"type":"text","font":"Liberation Sans","fontSize":16,"fill":"#111111"},"encoding":{"x":{"datum":0,"type":"quantitative","axis":null},"y":{"field":"ny","type":"quantitative","axis":null},"text":{"field":"t","type":"nominal"}}},
    {"data":{"name":"c55xy"},"transform":[{"calculate":"max(0,(datum.g+20)/20)","as":"r"},{"calculate":"datum.r*sin(datum.a*PI/180)","as":"x"},{"calculate":"datum.r*cos(datum.a*PI/180)","as":"y"}],"mark":{"type":"line","strokeWidth":2.4,"strokeJoin":"round"},"encoding":{"x":{"field":"x","type":"quantitative","axis":null},"y":{"field":"y","type":"quantitative","axis":null},"color":{"field":"s","type":"nominal","legend":{"title":null},"scale":{"domain":["Meas. Fin.","Sim. Fin.","Sim. Inf."],"range":["#1020f0","#000000","#ff00ff"]}},"strokeDash":{"field":"s","type":"nominal","legend":{"title":null},"scale":{"domain":["Meas. Fin.","Sim. Fin.","Sim. Inf."],"range":[[1,0],[7,3,2,3],[2.4,3]]}},"order":{"value":null}}},
    {"data":{"values":[{}]},"mark":{"type":"text","font":"Liberation Serif","fontSize":18,"fontWeight":"bold","fill":"#000000"},"encoding":{"x":{"datum":0.867,"type":"quantitative","axis":null},"y":{"datum":1.2245,"type":"quantitative","axis":null},"text":{"value":"xy plane"}}}
   ]},
   {"width": 296, "height": 296, "layer": [
    {"data":{"name":"ang"},"transform":[{"calculate":"sin(datum.a*PI/180)","as":"sx"},{"calculate":"cos(datum.a*PI/180)","as":"sy"}],"mark":{"type":"rule","stroke":"#cccccc","strokeWidth":0.8},"encoding":{"x":{"field":"sx","type":"quantitative","axis":null,"scale":{"domain":[-1.3455,1.3455]}},"y":{"field":"sy","type":"quantitative","axis":null,"scale":{"domain":[-1.3455,1.3455]}},"x2":{"datum":0},"y2":{"datum":0}}},
    {"data":{"name":"rng"},"mark":{"type":"point","shape":"circle","filled":false,"stroke":"#cccccc","strokeWidth":0.8,"opacity":1},"encoding":{"x":{"datum":0,"type":"quantitative","axis":null},"y":{"datum":0,"type":"quantitative","axis":null},"size":{"field":"r","type":"quantitative","legend":null,"scale":{"type":"pow","exponent":2,"domain":[0,1],"range":[0,48400]}}}},
    {"data":{"name":"out"},"mark":{"type":"point","shape":"circle","filled":false,"stroke":"#888888","strokeWidth":1,"opacity":1},"encoding":{"x":{"datum":0,"type":"quantitative","axis":null},"y":{"datum":0,"type":"quantitative","axis":null},"size":{"field":"r","type":"quantitative","legend":null}}},
    {"data":{"name":"ang"},"transform":[{"calculate":"1.12*sin(datum.a*PI/180)","as":"lx"},{"calculate":"1.12*cos(datum.a*PI/180)","as":"ly"}],"mark":{"type":"text","font":"Liberation Sans","fontSize":13,"fill":"#333333"},"encoding":{"x":{"field":"lx","type":"quantitative","axis":null},"y":{"field":"ly","type":"quantitative","axis":null},"text":{"field":"a","type":"quantitative"}}},
    {"data":{"name":"dbl"},"transform":[{"calculate":"-datum.r","as":"ny"}],"mark":{"type":"text","font":"Liberation Sans","fontSize":16,"fill":"#111111"},"encoding":{"x":{"datum":0,"type":"quantitative","axis":null},"y":{"field":"ny","type":"quantitative","axis":null},"text":{"field":"t","type":"nominal"}}},
    {"data":{"name":"c75yz"},"transform":[{"calculate":"max(0,(datum.g+20)/20)","as":"r"},{"calculate":"datum.r*sin(datum.a*PI/180)","as":"x"},{"calculate":"datum.r*cos(datum.a*PI/180)","as":"y"}],"mark":{"type":"line","strokeWidth":2.4,"strokeJoin":"round"},"encoding":{"x":{"field":"x","type":"quantitative","axis":null},"y":{"field":"y","type":"quantitative","axis":null},"color":{"field":"s","type":"nominal","legend":{"title":null},"scale":{"domain":["Meas. Fin.","Sim. Fin.","Sim. Inf."],"range":["#1020f0","#000000","#ff00ff"]}},"strokeDash":{"field":"s","type":"nominal","legend":{"title":null},"scale":{"domain":["Meas. Fin.","Sim. Fin.","Sim. Inf."],"range":[[1,0],[7,3,2,3],[2.4,3]]}},"order":{"value":null}}},
    {"data":{"values":[{}]},"mark":{"type":"text","font":"Liberation Serif","fontSize":18,"fontWeight":"bold","fill":"#000000"},"encoding":{"x":{"datum":-0.87,"type":"quantitative","axis":null},"y":{"datum":1.2245,"type":"quantitative","axis":null},"text":{"value":"yz plane"}}},
    {"data":{"values":[{}]},"mark":{"type":"text","font":"Liberation Serif","fontSize":20,"fontWeight":"bold","fill":"#000000"},"encoding":{"x":{"datum":1.34,"type":"quantitative","axis":null},"y":{"datum":-0.86,"type":"quantitative","axis":null},"text":{"value":"7.5 GHz"}}},
    {"data":{"values":[{}]},"mark":{"type":"text","font":"Liberation Serif","fontSize":16,"fill":"#000000"},"encoding":{"x":{"datum":1.3455,"type":"quantitative","axis":null},"y":{"datum":-1.49,"type":"quantitative","axis":null},"text":{"value":"(c)"}}}
   ]},
   {"width": 296, "height": 296, "layer": [
    {"data":{"name":"ang"},"transform":[{"calculate":"sin(datum.a*PI/180)","as":"sx"},{"calculate":"cos(datum.a*PI/180)","as":"sy"}],"mark":{"type":"rule","stroke":"#cccccc","strokeWidth":0.8},"encoding":{"x":{"field":"sx","type":"quantitative","axis":null,"scale":{"domain":[-1.3455,1.3455]}},"y":{"field":"sy","type":"quantitative","axis":null,"scale":{"domain":[-1.3455,1.3455]}},"x2":{"datum":0},"y2":{"datum":0}}},
    {"data":{"name":"rng"},"mark":{"type":"point","shape":"circle","filled":false,"stroke":"#cccccc","strokeWidth":0.8,"opacity":1},"encoding":{"x":{"datum":0,"type":"quantitative","axis":null},"y":{"datum":0,"type":"quantitative","axis":null},"size":{"field":"r","type":"quantitative","legend":null,"scale":{"type":"pow","exponent":2,"domain":[0,1],"range":[0,48400]}}}},
    {"data":{"name":"out"},"mark":{"type":"point","shape":"circle","filled":false,"stroke":"#888888","strokeWidth":1,"opacity":1},"encoding":{"x":{"datum":0,"type":"quantitative","axis":null},"y":{"datum":0,"type":"quantitative","axis":null},"size":{"field":"r","type":"quantitative","legend":null}}},
    {"data":{"name":"ang"},"transform":[{"calculate":"1.12*sin(datum.a*PI/180)","as":"lx"},{"calculate":"1.12*cos(datum.a*PI/180)","as":"ly"}],"mark":{"type":"text","font":"Liberation Sans","fontSize":13,"fill":"#333333"},"encoding":{"x":{"field":"lx","type":"quantitative","axis":null},"y":{"field":"ly","type":"quantitative","axis":null},"text":{"field":"a","type":"quantitative"}}},
    {"data":{"name":"dbl"},"transform":[{"calculate":"-datum.r","as":"ny"}],"mark":{"type":"text","font":"Liberation Sans","fontSize":16,"fill":"#111111"},"encoding":{"x":{"datum":0,"type":"quantitative","axis":null},"y":{"field":"ny","type":"quantitative","axis":null},"text":{"field":"t","type":"nominal"}}},
    {"data":{"name":"c75xy"},"transform":[{"calculate":"max(0,(datum.g+20)/20)","as":"r"},{"calculate":"datum.r*sin(datum.a*PI/180)","as":"x"},{"calculate":"datum.r*cos(datum.a*PI/180)","as":"y"}],"mark":{"type":"line","strokeWidth":2.4,"strokeJoin":"round"},"encoding":{"x":{"field":"x","type":"quantitative","axis":null},"y":{"field":"y","type":"quantitative","axis":null},"color":{"field":"s","type":"nominal","legend":{"title":null},"scale":{"domain":["Meas. Fin.","Sim. Fin.","Sim. Inf."],"range":["#1020f0","#000000","#ff00ff"]}},"strokeDash":{"field":"s","type":"nominal","legend":{"title":null},"scale":{"domain":["Meas. Fin.","Sim. Fin.","Sim. Inf."],"range":[[1,0],[7,3,2,3],[2.4,3]]}},"order":{"value":null}}},
    {"data":{"values":[{}]},"mark":{"type":"text","font":"Liberation Serif","fontSize":18,"fontWeight":"bold","fill":"#000000"},"encoding":{"x":{"datum":0.867,"type":"quantitative","axis":null},"y":{"datum":1.2245,"type":"quantitative","axis":null},"text":{"value":"xy plane"}}}
   ]},
   {"width": 296, "height": 296, "layer": [
    {"data":{"name":"ang"},"transform":[{"calculate":"sin(datum.a*PI/180)","as":"sx"},{"calculate":"cos(datum.a*PI/180)","as":"sy"}],"mark":{"type":"rule","stroke":"#cccccc","strokeWidth":0.8},"encoding":{"x":{"field":"sx","type":"quantitative","axis":null,"scale":{"domain":[-1.3455,1.3455]}},"y":{"field":"sy","type":"quantitative","axis":null,"scale":{"domain":[-1.3455,1.3455]}},"x2":{"datum":0},"y2":{"datum":0}}},
    {"data":{"name":"rng"},"mark":{"type":"point","shape":"circle","filled":false,"stroke":"#cccccc","strokeWidth":0.8,"opacity":1},"encoding":{"x":{"datum":0,"type":"quantitative","axis":null},"y":{"datum":0,"type":"quantitative","axis":null},"size":{"field":"r","type":"quantitative","legend":null,"scale":{"type":"pow","exponent":2,"domain":[0,1],"range":[0,48400]}}}},
    {"data":{"name":"out"},"mark":{"type":"point","shape":"circle","filled":false,"stroke":"#888888","strokeWidth":1,"opacity":1},"encoding":{"x":{"datum":0,"type":"quantitative","axis":null},"y":{"datum":0,"type":"quantitative","axis":null},"size":{"field":"r","type":"quantitative","legend":null}}},
    {"data":{"name":"ang"},"transform":[{"calculate":"1.12*sin(datum.a*PI/180)","as":"lx"},{"calculate":"1.12*cos(datum.a*PI/180)","as":"ly"}],"mark":{"type":"text","font":"Liberation Sans","fontSize":13,"fill":"#333333"},"encoding":{"x":{"field":"lx","type":"quantitative","axis":null},"y":{"field":"ly","type":"quantitative","axis":null},"text":{"field":"a","type":"quantitative"}}},
    {"data":{"name":"dbl"},"transform":[{"calculate":"-datum.r","as":"ny"}],"mark":{"type":"text","font":"Liberation Sans","fontSize":16,"fill":"#111111"},"encoding":{"x":{"datum":0,"type":"quantitative","axis":null},"y":{"field":"ny","type":"quantitative","axis":null},"text":{"field":"t","type":"nominal"}}},
    {"data":{"name":"c95yz"},"transform":[{"calculate":"max(0,(datum.g+20)/20)","as":"r"},{"calculate":"datum.r*sin(datum.a*PI/180)","as":"x"},{"calculate":"datum.r*cos(datum.a*PI/180)","as":"y"}],"mark":{"type":"line","strokeWidth":2.4,"strokeJoin":"round"},"encoding":{"x":{"field":"x","type":"quantitative","axis":null},"y":{"field":"y","type":"quantitative","axis":null},"color":{"field":"s","type":"nominal","legend":{"title":null},"scale":{"domain":["Meas. Fin.","Sim. Fin.","Sim. Inf."],"range":["#1020f0","#000000","#ff00ff"]}},"strokeDash":{"field":"s","type":"nominal","legend":{"title":null},"scale":{"domain":["Meas. Fin.","Sim. Fin.","Sim. Inf."],"range":[[1,0],[7,3,2,3],[2.4,3]]}},"order":{"value":null}}},
    {"data":{"values":[{}]},"mark":{"type":"text","font":"Liberation Serif","fontSize":18,"fontWeight":"bold","fill":"#000000"},"encoding":{"x":{"datum":-0.87,"type":"quantitative","axis":null},"y":{"datum":1.2245,"type":"quantitative","axis":null},"text":{"value":"yz plane"}}},
    {"data":{"values":[{}]},"mark":{"type":"text","font":"Liberation Serif","fontSize":20,"fontWeight":"bold","fill":"#000000"},"encoding":{"x":{"datum":1.34,"type":"quantitative","axis":null},"y":{"datum":-0.86,"type":"quantitative","axis":null},"text":{"value":"9.5 GHz"}}},
    {"data":{"values":[{}]},"mark":{"type":"text","font":"Liberation Serif","fontSize":16,"fill":"#000000"},"encoding":{"x":{"datum":1.3455,"type":"quantitative","axis":null},"y":{"datum":-1.49,"type":"quantitative","axis":null},"text":{"value":"(d)"}}}
   ]},
   {"width": 296, "height": 296, "layer": [
    {"data":{"name":"ang"},"transform":[{"calculate":"sin(datum.a*PI/180)","as":"sx"},{"calculate":"cos(datum.a*PI/180)","as":"sy"}],"mark":{"type":"rule","stroke":"#cccccc","strokeWidth":0.8},"encoding":{"x":{"field":"sx","type":"quantitative","axis":null,"scale":{"domain":[-1.3455,1.3455]}},"y":{"field":"sy","type":"quantitative","axis":null,"scale":{"domain":[-1.3455,1.3455]}},"x2":{"datum":0},"y2":{"datum":0}}},
    {"data":{"name":"rng"},"mark":{"type":"point","shape":"circle","filled":false,"stroke":"#cccccc","strokeWidth":0.8,"opacity":1},"encoding":{"x":{"datum":0,"type":"quantitative","axis":null},"y":{"datum":0,"type":"quantitative","axis":null},"size":{"field":"r","type":"quantitative","legend":null,"scale":{"type":"pow","exponent":2,"domain":[0,1],"range":[0,48400]}}}},
    {"data":{"name":"out"},"mark":{"type":"point","shape":"circle","filled":false,"stroke":"#888888","strokeWidth":1,"opacity":1},"encoding":{"x":{"datum":0,"type":"quantitative","axis":null},"y":{"datum":0,"type":"quantitative","axis":null},"size":{"field":"r","type":"quantitative","legend":null}}},
    {"data":{"name":"ang"},"transform":[{"calculate":"1.12*sin(datum.a*PI/180)","as":"lx"},{"calculate":"1.12*cos(datum.a*PI/180)","as":"ly"}],"mark":{"type":"text","font":"Liberation Sans","fontSize":13,"fill":"#333333"},"encoding":{"x":{"field":"lx","type":"quantitative","axis":null},"y":{"field":"ly","type":"quantitative","axis":null},"text":{"field":"a","type":"quantitative"}}},
    {"data":{"name":"dbl"},"transform":[{"calculate":"-datum.r","as":"ny"}],"mark":{"type":"text","font":"Liberation Sans","fontSize":16,"fill":"#111111"},"encoding":{"x":{"datum":0,"type":"quantitative","axis":null},"y":{"field":"ny","type":"quantitative","axis":null},"text":{"field":"t","type":"nominal"}}},
    {"data":{"name":"c95xy"},"transform":[{"calculate":"max(0,(datum.g+20)/20)","as":"r"},{"calculate":"datum.r*sin(datum.a*PI/180)","as":"x"},{"calculate":"datum.r*cos(datum.a*PI/180)","as":"y"}],"mark":{"type":"line","strokeWidth":2.4,"strokeJoin":"round"},"encoding":{"x":{"field":"x","type":"quantitative","axis":null},"y":{"field":"y","type":"quantitative","axis":null},"color":{"field":"s","type":"nominal","legend":{"title":null},"scale":{"domain":["Meas. Fin.","Sim. Fin.","Sim. Inf."],"range":["#1020f0","#000000","#ff00ff"]}},"strokeDash":{"field":"s","type":"nominal","legend":{"title":null},"scale":{"domain":["Meas. Fin.","Sim. Fin.","Sim. Inf."],"range":[[1,0],[7,3,2,3],[2.4,3]]}},"order":{"value":null}}},
    {"data":{"values":[{}]},"mark":{"type":"text","font":"Liberation Serif","fontSize":18,"fontWeight":"bold","fill":"#000000"},"encoding":{"x":{"datum":0.867,"type":"quantitative","axis":null},"y":{"datum":1.2245,"type":"quantitative","axis":null},"text":{"value":"xy plane"}}}
   ]}
]
}
